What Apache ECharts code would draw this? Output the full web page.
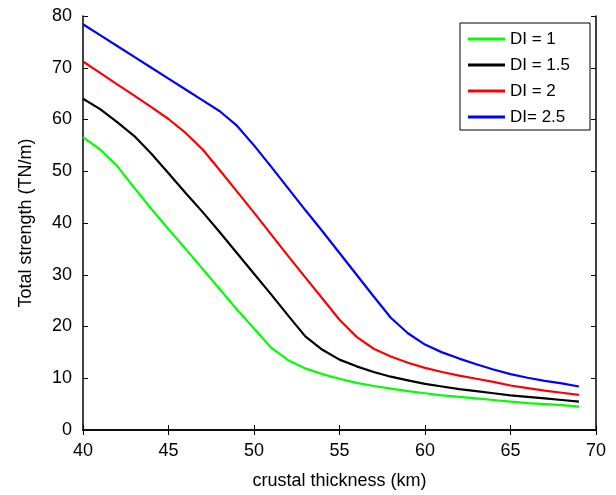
<!DOCTYPE html>
<html>
<head>
<meta charset="utf-8">
<script src="https://cdn.jsdelivr.net/npm/echarts@6/dist/echarts.min.js"></script>
<style>html,body{margin:0;padding:0;background:#fff}#c{width:616px;height:495px}</style>
</head>
<body>
<div id="c"></div>
<script>
const thickness = [40,41,42,43,44,45,46,47,48,49,50,51,52,53,54,55,56,57,58,59,60,61,62,63,64,65,66,67,68,69];
const di1   = [56.6,54.2,51.0,46.8,42.7,38.8,35.0,31.1,27.2,23.3,19.6,15.9,13.5,11.9,10.8,9.9,9.1,8.5,8.0,7.5,7.1,6.7,6.4,6.1,5.8,5.5,5.2,5.0,4.8,4.5];
const di15  = [64.0,62.0,59.5,56.8,53.4,49.6,45.8,42.1,38.2,34.2,30.2,26.2,22.1,18.1,15.5,13.6,12.3,11.2,10.3,9.6,8.9,8.4,7.9,7.5,7.1,6.7,6.4,6.1,5.8,5.5];
const di2   = [71.2,69.0,66.8,64.6,62.4,60.1,57.4,54.2,50.2,46.1,42.0,37.8,33.6,29.5,25.4,21.3,18.0,15.7,14.2,13.0,12.0,11.2,10.5,9.9,9.3,8.6,8.1,7.6,7.2,6.8];
const di25  = [78.4,76.3,74.2,72.1,70.0,67.9,65.8,63.7,61.6,58.8,55.0,50.9,46.7,42.5,38.4,34.2,30.0,25.8,21.7,18.7,16.5,15.0,13.8,12.7,11.7,10.8,10.1,9.5,9.0,8.4];
const seriesNames = ['DI = 1','DI = 1.5','DI = 2','DI= 2.5'];
const seriesColors = ['#00ff00','#000000','#ff0000','#0000ff'];
const seriesValues = [di1, di15, di2, di25];
const xTicks = [40,45,50,55,60,65,70];
const yTicks = [0,10,20,30,40,50,60,70,80];

const FONT = 'Liberation Sans, Arial, Helvetica, sans-serif';
const chart = echarts.init(document.getElementById('c'), null, {renderer:'canvas'});

const axisLineStyle = {show:true, lineStyle:{color:'#000', width:1.5}};
const tickStyle = {show:true, inside:true, length:5, lineStyle:{color:'#000', width:1}};

chart.setOption({
  backgroundColor:'#fff',
  animation:false,
  textStyle:{fontFamily:FONT},
  grid:{left:83, right:20, top:16, bottom:55, containLabel:false},
  legend:{
    data:seriesNames,
    orient:'vertical',
    right:26, top:23,
    backgroundColor:'#fff',
    borderColor:'#000', borderWidth:1, borderRadius:0,
    padding:[6,20,3,8],
    itemGap:6,
    itemWidth:37, itemHeight:3,
    icon:'rect',
    textStyle:{fontFamily:FONT, fontSize:17, color:'#000', lineHeight:20}
  },
  xAxis:[{
    type:'value', min:xTicks[0], max:xTicks[xTicks.length-1], interval:5,
    name:'crustal thickness (km)', nameLocation:'middle', nameGap:42,
    nameTextStyle:{fontFamily:FONT, fontSize:18, color:'#000'},
    axisLine:axisLineStyle, axisTick:tickStyle,
    axisLabel:{fontFamily:FONT, fontSize:18, color:'#000', margin:12},
    splitLine:{show:false}
  },{
    type:'value', position:'top', min:xTicks[0], max:xTicks[xTicks.length-1], interval:5,
    axisLine:axisLineStyle, axisTick:tickStyle, axisLabel:{show:false}, splitLine:{show:false}
  }],
  yAxis:[{
    type:'value', min:yTicks[0], max:yTicks[yTicks.length-1], interval:10,
    name:'Total strength (TN/m)', nameLocation:'middle', nameGap:48,
    nameTextStyle:{fontFamily:FONT, fontSize:18, color:'#000'},
    axisLine:axisLineStyle, axisTick:tickStyle,
    axisLabel:{fontFamily:FONT, fontSize:18, color:'#000', margin:11},
    splitLine:{show:false}
  },{
    type:'value', position:'right', min:yTicks[0], max:yTicks[yTicks.length-1], interval:10,
    axisLine:axisLineStyle, axisTick:tickStyle, axisLabel:{show:false}, splitLine:{show:false}
  }],
  series: seriesNames.map((n,i)=>({
    name:n, type:'line', xAxisIndex:0, yAxisIndex:0,
    showSymbol:false, symbol:'none',
    color:seriesColors[i],
    lineStyle:{color:seriesColors[i], width:2.2},
    data: thickness.map((x,j)=>[x, seriesValues[i][j]])
  }))
});
</script>
</body>
</html>
